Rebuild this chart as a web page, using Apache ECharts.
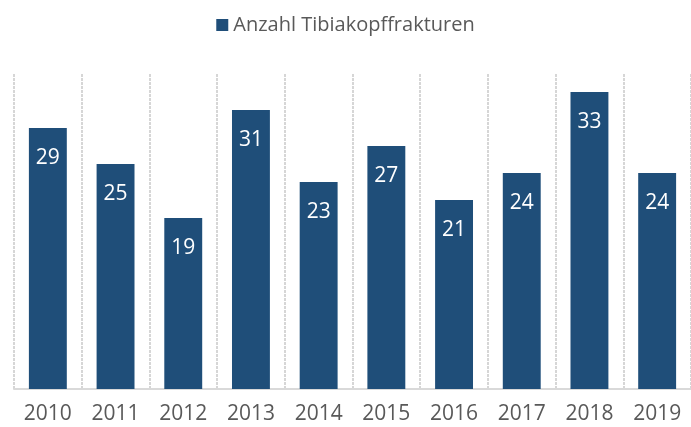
<!DOCTYPE html>
<html>
<head>
<meta charset="utf-8">
<script src="https://cdn.jsdelivr.net/npm/echarts@6/dist/echarts.min.js"></script>
<style>
  html, body { margin: 0; padding: 0; background: #fff; }
  #chart { width: 691px; height: 427px; }
</style>
</head>
<body>
<div id="chart"></div>
<script>
// data
const years = ["2010", "2011", "2012", "2013", "2014", "2015", "2016", "2017", "2018", "2019"];
const fractures = [29, 25, 19, 31, 23, 27, 21, 24, 33, 24];
const seriesName = "Anzahl Tibiakopffrakturen";

const chart = echarts.init(document.getElementById("chart"));

chart.setOption({
  backgroundColor: "#fff",
  animation: false,
  textStyle: { fontFamily: "Open Sans" },
  legend: {
    data: [seriesName],
    top: 10,
    left: "center",
    itemWidth: 12,
    itemHeight: 12,
    itemGap: 6,
    icon: "rect",
    textStyle: { color: "#595959", fontSize: 20, fontFamily: "Open Sans" },
  },
  grid: { left: 14, right: -6, top: 74, bottom: 38 },
  xAxis: {
    type: "category",
    data: years,
    axisTick: { show: false },
    axisLine: { lineStyle: { color: "#d9d9d9", width: 2 } },
    axisLabel: { color: "#595959", fontSize: 21, margin: 15 },
    splitLine: {
      show: true,
      lineStyle: { color: "#d6d6d6", width: 2, type: [3, 1] },
    },
  },
  yAxis: {
    type: "value",
    min: 0,
    max: 35,
    show: false,
    splitLine: { show: false },
  },
  series: [
    {
      name: seriesName,
      type: "bar",
      data: fractures,
      barCategoryGap: "44%",
      itemStyle: { color: "#1f4e79" },
      label: {
        show: true,
        position: "insideTop",
        distance: 20,
        color: "#fff",
        fontSize: 21,
      },
    },
  ],
});
</script>
</body>
</html>
